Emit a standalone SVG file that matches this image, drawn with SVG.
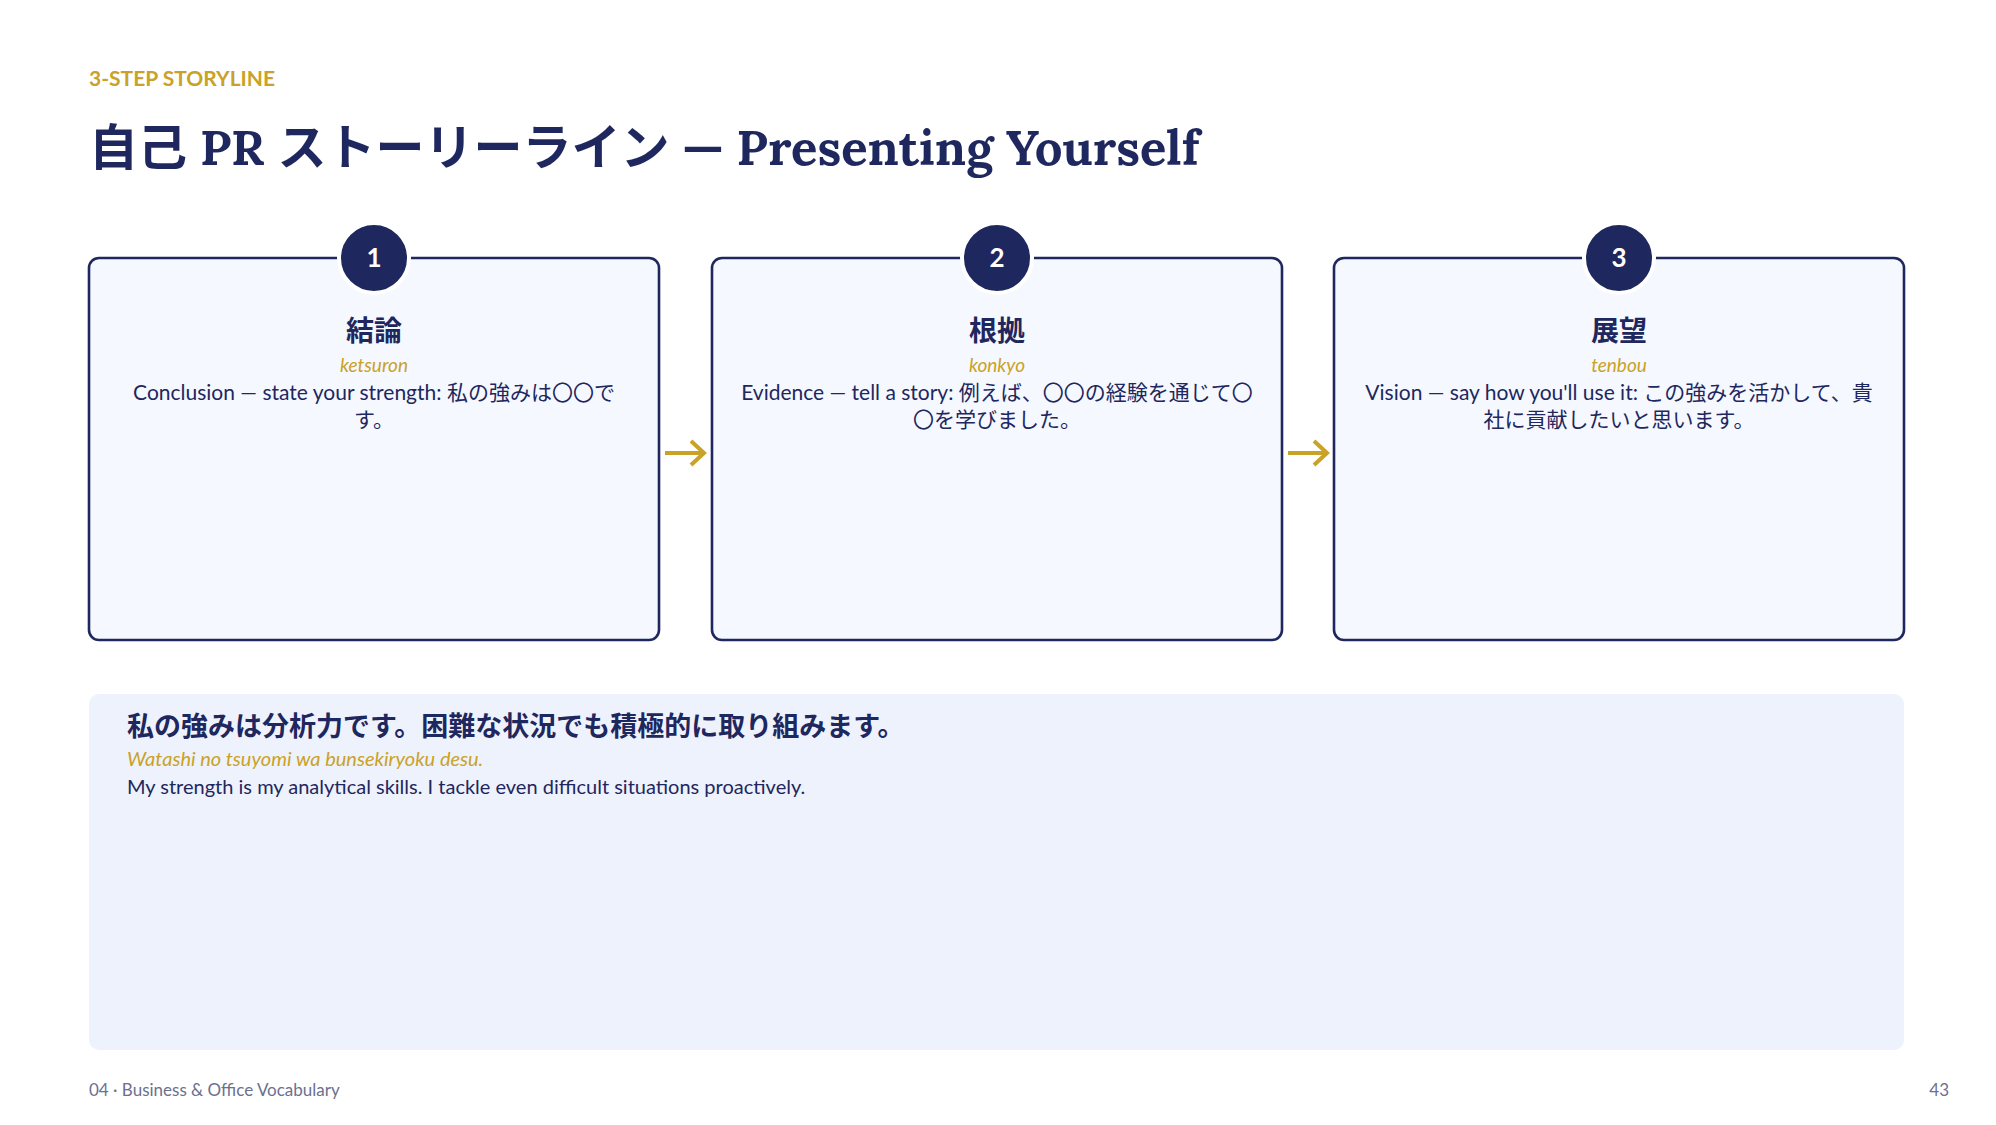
<svg xmlns="http://www.w3.org/2000/svg" width="1996" height="1125" viewBox="0 0 1996 1125">
<style>
.s{font-family:Lato,"Noto Sans","Noto Sans CJK JP",sans-serif}
.box{fill:#F5F8FE;stroke:#1E275E;stroke-width:2.6}
.num{fill:#1E275E;stroke:#fff;stroke-width:4}
.numt{fill:#fff;font-size:26px;font-weight:700;text-anchor:middle}
.h{fill:#1E275E;font-size:28px;font-weight:700;text-anchor:middle}
.r{fill:#C9A227;font-size:19px;font-style:italic;text-anchor:middle}
.d{fill:#1E275E;font-size:21px;text-anchor:middle}
.arr{stroke:#C9A227;stroke-width:4;fill:none}
</style>
<rect width="1996" height="1125" fill="#fff"/>
<text x="89" y="86" class="s" font-size="21" font-weight="700" fill="#C9A227">3-STEP STORYLINE</text>
<text x="89" y="165" font-family="Lora,'Liberation Serif','Noto Sans CJK JP',serif" font-size="49" font-weight="700" fill="#1E275E">自己 PR ストーリーライン — Presenting Yourself</text>
<g id="step1">
<rect x="89" y="258" width="570" height="382" rx="10" class="box"/>
<circle cx="374" cy="258" r="35" class="num"/>
<text x="374" y="267" class="s numt">1</text>
<text x="374" y="341" class="s h">結論</text>
<text x="374" y="372" class="s r">ketsuron</text>
<text x="374" y="400" class="s d">Conclusion — state your strength:  私の強みは〇〇で</text>
<text x="374" y="427" class="s d">す。</text>
</g>
<g id="step2">
<rect x="712" y="258" width="570" height="382" rx="10" class="box"/>
<circle cx="997" cy="258" r="35" class="num"/>
<text x="997" y="267" class="s numt">2</text>
<text x="997" y="341" class="s h">根拠</text>
<text x="997" y="372" class="s r">konkyo</text>
<text x="997" y="400" class="s d">Evidence — tell a story:  例えば、〇〇の経験を通じて〇</text>
<text x="997" y="427" class="s d">〇を学びました。</text>
</g>
<g id="step3">
<rect x="1334" y="258" width="570" height="382" rx="10" class="box"/>
<circle cx="1619" cy="258" r="35" class="num"/>
<text x="1619" y="267" class="s numt">3</text>
<text x="1619" y="341" class="s h">展望</text>
<text x="1619" y="372" class="s r">tenbou</text>
<text x="1619" y="400" class="s d">Vision — say how you'll use it:  この強みを活かして、貴</text>
<text x="1619" y="427" class="s d">社に貢献したいと思います。</text>
</g>
<g id="connectors">
<path d="M665 453H703M691 441L704 453L691 465" class="arr"/>
<path d="M1288 453H1326M1314 441L1327 453L1314 465" class="arr"/>
</g>
<g id="example">
<rect x="89" y="694" width="1815" height="356" rx="10" fill="#EEF2FC"/>
<text x="127" y="736" class="s" font-size="27" font-weight="700" fill="#1E275E">私の強みは分析力です。困難な状況でも積極的に取り組みます。</text>
<text x="127" y="766" class="s" font-size="20" font-style="italic" fill="#C9A227">Watashi no tsuyomi wa bunsekiryoku desu.</text>
<text x="127" y="794" class="s" font-size="20" fill="#1E275E">My strength is my analytical skills. I tackle even difficult situations proactively.</text>
</g>
<text x="89" y="1096" class="s" font-size="17" fill="#6B7090">04 · Business &amp; Office Vocabulary</text>
<text x="1949" y="1096" class="s" font-size="17" fill="#6B7090" text-anchor="end">43</text>
</svg>
